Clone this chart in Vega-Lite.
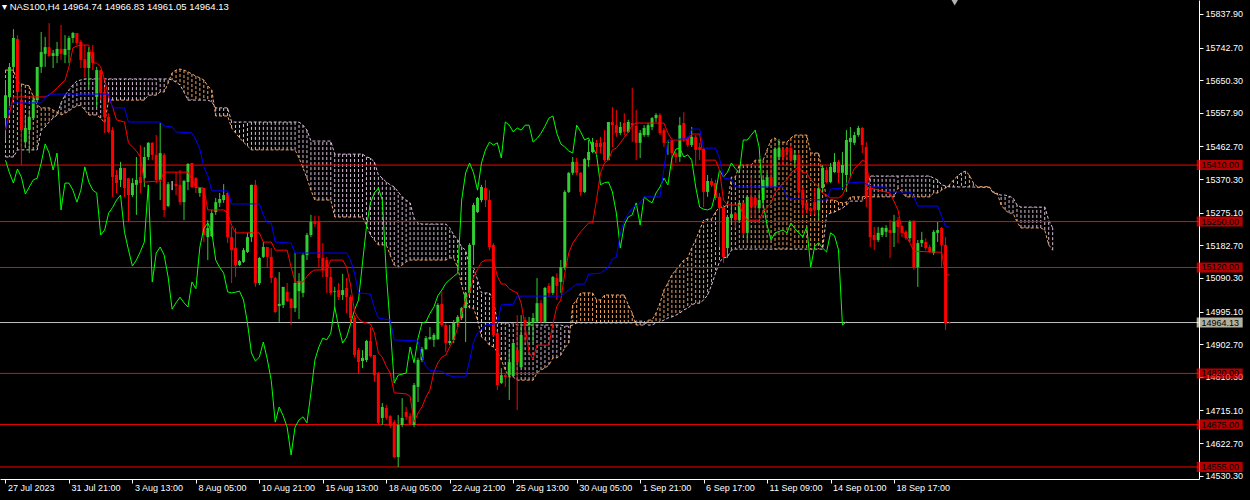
{
"$schema": "https://vega.github.io/schema/vega-lite/v6.json",
"width": 1199, "height": 479, "autosize": "none", "padding": {"left": 0, "top": 0, "right": 51, "bottom": 21}, "background": "#000000",
"title": {"text": "▾ NAS100,H4  14964.74 14966.83 14961.05 14964.13", "anchor": "start", "frame": "group", "orient": "top", "offset": -12, "dx": 2, "color": "#ffffff", "font": "Liberation Sans", "fontSize": 9.5, "fontWeight": "normal"},
"config": {"view": {"stroke": null}, "axis": {"labelOverlap": false, "labelFlush": false, "labelBound": false, "grid": false}},
"datasets": {
"k": [
{"i":0,"o":15543,"h":15651,"l":15481,"c":15608},{"i":1,"o":15603,"h":15699,"l":15574,"c":15688},{"i":2,"o":15688,"h":15795,"l":15679,"c":15770},{"i":3,"o":15767,"h":15778,"l":15594,"c":15617},{"i":4,"o":15594,"h":15631,"l":15410,"c":15509},{"i":5,"o":15475,"h":15546,"l":15461,"c":15515},{"i":6,"o":15509,"h":15566,"l":15444,"c":15546},{"i":7,"o":15543,"h":15608,"l":15538,"c":15594},{"i":8,"o":15594,"h":15688,"l":15586,"c":15688},{"i":9,"o":15688,"h":15787,"l":15671,"c":15730},
{"i":10,"o":15725,"h":15773,"l":15688,"c":15744},{"i":11,"o":15744,"h":15812,"l":15716,"c":15719},{"i":12,"o":15719,"h":15736,"l":15685,"c":15727},{"i":13,"o":15719,"h":15759,"l":15699,"c":15739},{"i":14,"o":15739,"h":15807,"l":15708,"c":15725},{"i":15,"o":15722,"h":15778,"l":15699,"c":15739},{"i":16,"o":15736,"h":15776,"l":15699,"c":15770},{"i":17,"o":15770,"h":15787,"l":15756,"c":15784},{"i":18,"o":15784,"h":15784,"l":15750,"c":15756},{"i":19,"o":15759,"h":15764,"l":15685,"c":15708},
{"i":20,"o":15710,"h":15750,"l":15659,"c":15685},{"i":21,"o":15685,"h":15744,"l":15631,"c":15730},{"i":22,"o":15730,"h":15750,"l":15679,"c":15699},{"i":23,"o":15603,"h":15688,"l":15574,"c":15679},{"i":24,"o":15679,"h":15679,"l":15594,"c":15614},{"i":25,"o":15617,"h":15631,"l":15501,"c":15546},{"i":26,"o":15546,"h":15557,"l":15501,"c":15504},{"i":27,"o":15509,"h":15518,"l":15320,"c":15376},{"i":28,"o":15382,"h":15396,"l":15331,"c":15359},{"i":29,"o":15368,"h":15419,"l":15348,"c":15402},
{"i":30,"o":15402,"h":15402,"l":15320,"c":15345},{"i":31,"o":15373,"h":15373,"l":15249,"c":15325},{"i":32,"o":15325,"h":15373,"l":15320,"c":15359},{"i":33,"o":15354,"h":15433,"l":15269,"c":15368},{"i":34,"o":15376,"h":15467,"l":15331,"c":15359},{"i":35,"o":15373,"h":15461,"l":15348,"c":15433},{"i":36,"o":15433,"h":15475,"l":15424,"c":15473},{"i":37,"o":15473,"h":15475,"l":15424,"c":15439},{"i":38,"o":15439,"h":15495,"l":15359,"c":15368},{"i":39,"o":15368,"h":15529,"l":15311,"c":15444},
{"i":40,"o":15439,"h":15444,"l":15263,"c":15283},{"i":41,"o":15294,"h":15362,"l":15291,"c":15356},{"i":42,"o":15354,"h":15365,"l":15339,"c":15354},{"i":43,"o":15356,"h":15390,"l":15325,"c":15351},{"i":44,"o":15354,"h":15396,"l":15297,"c":15305},{"i":45,"o":15305,"h":15368,"l":15254,"c":15365},{"i":46,"o":15362,"h":15416,"l":15339,"c":15413},{"i":47,"o":15416,"h":15416,"l":15345,"c":15348},{"i":48,"o":15373,"h":15376,"l":15331,"c":15345},{"i":49,"o":15331,"h":15348,"l":15320,"c":15345},
{"i":50,"o":15345,"h":15345,"l":15192,"c":15212},{"i":51,"o":15206,"h":15254,"l":15141,"c":15232},{"i":52,"o":15209,"h":15283,"l":15206,"c":15274},{"i":53,"o":15277,"h":15317,"l":15269,"c":15305},{"i":54,"o":15303,"h":15331,"l":15291,"c":15314},{"i":55,"o":15311,"h":15356,"l":15303,"c":15325},{"i":56,"o":15331,"h":15334,"l":15189,"c":15206},{"i":57,"o":15206,"h":15235,"l":15076,"c":15169},{"i":58,"o":15175,"h":15232,"l":15093,"c":15127},{"i":59,"o":15127,"h":15141,"l":15124,"c":15138},
{"i":60,"o":15136,"h":15175,"l":15133,"c":15169},{"i":61,"o":15164,"h":15218,"l":15161,"c":15206},{"i":62,"o":15206,"h":15354,"l":15192,"c":15354},{"i":63,"o":15354,"h":15368,"l":15065,"c":15076},{"i":64,"o":15076,"h":15150,"l":15070,"c":15147},{"i":65,"o":15150,"h":15192,"l":15147,"c":15178},{"i":66,"o":15178,"h":15178,"l":15121,"c":15150},{"i":67,"o":15150,"h":15175,"l":15076,"c":15090},{"i":68,"o":15090,"h":15093,"l":14991,"c":14994},{"i":69,"o":15011,"h":15107,"l":14966,"c":15017},
{"i":70,"o":15014,"h":15065,"l":15005,"c":15065},{"i":71,"o":15051,"h":15076,"l":15022,"c":15025},{"i":72,"o":15031,"h":15034,"l":14957,"c":15005},{"i":73,"o":15005,"h":15161,"l":14994,"c":15076},{"i":74,"o":15053,"h":15104,"l":14974,"c":15082},{"i":75,"o":15048,"h":15161,"l":15036,"c":15155},{"i":76,"o":15155,"h":15218,"l":15141,"c":15212},{"i":77,"o":15212,"h":15269,"l":15206,"c":15249},{"i":78,"o":15249,"h":15266,"l":15235,"c":15243},{"i":79,"o":15249,"h":15266,"l":15119,"c":15147},
{"i":80,"o":15147,"h":15189,"l":15093,"c":15113},{"i":81,"o":15141,"h":15150,"l":15048,"c":15093},{"i":82,"o":15093,"h":15121,"l":15042,"c":15048},{"i":83,"o":15051,"h":15065,"l":15008,"c":15053},{"i":84,"o":15056,"h":15076,"l":15028,"c":15036},{"i":85,"o":15042,"h":15102,"l":15028,"c":15056},{"i":86,"o":15062,"h":15090,"l":14991,"c":15036},{"i":87,"o":15036,"h":15042,"l":14963,"c":14977},{"i":88,"o":14977,"h":14985,"l":14866,"c":14872},{"i":89,"o":14886,"h":14892,"l":14821,"c":14852},
{"i":90,"o":14855,"h":14886,"l":14835,"c":14864},{"i":91,"o":14858,"h":14915,"l":14852,"c":14912},{"i":92,"o":14912,"h":14951,"l":14866,"c":14869},{"i":93,"o":14872,"h":14872,"l":14796,"c":14815},{"i":94,"o":14821,"h":14824,"l":14674,"c":14680},{"i":95,"o":14694,"h":14736,"l":14674,"c":14725},{"i":96,"o":14722,"h":14731,"l":14688,"c":14694},{"i":97,"o":14699,"h":14702,"l":14665,"c":14671},{"i":98,"o":14682,"h":14688,"l":14580,"c":14583},{"i":99,"o":14583,"h":14702,"l":14555,"c":14674},
{"i":100,"o":14674,"h":14750,"l":14668,"c":14694},{"i":101,"o":14711,"h":14725,"l":14688,"c":14697},{"i":102,"o":14699,"h":14708,"l":14674,"c":14677},{"i":103,"o":14674,"h":14793,"l":14668,"c":14787},{"i":104,"o":14782,"h":14864,"l":14739,"c":14858},{"i":105,"o":14858,"h":14895,"l":14852,"c":14889},{"i":106,"o":14889,"h":14926,"l":14886,"c":14920},{"i":107,"o":14917,"h":14951,"l":14915,"c":14923},{"i":108,"o":14915,"h":14934,"l":14895,"c":14929},{"i":109,"o":14917,"h":15019,"l":14915,"c":15014},
{"i":110,"o":15017,"h":15051,"l":14951,"c":14957},{"i":111,"o":14957,"h":14963,"l":14881,"c":14906},{"i":112,"o":14906,"h":14957,"l":14900,"c":14912},{"i":113,"o":14915,"h":14971,"l":14906,"c":14963},{"i":114,"o":14963,"h":14985,"l":14951,"c":14980},{"i":115,"o":14977,"h":15008,"l":14971,"c":15005},{"i":116,"o":15005,"h":15051,"l":14909,"c":15048},{"i":117,"o":15048,"h":15189,"l":15042,"c":15184},{"i":118,"o":15184,"h":15303,"l":15127,"c":15297},{"i":119,"o":15277,"h":15320,"l":15274,"c":15317},
{"i":120,"o":15311,"h":15354,"l":15305,"c":15348},{"i":121,"o":15345,"h":15368,"l":15291,"c":15311},{"i":122,"o":15311,"h":15339,"l":15169,"c":15178},{"i":123,"o":15184,"h":15189,"l":14923,"c":14929},{"i":124,"o":14934,"h":14937,"l":14773,"c":14787},{"i":125,"o":14793,"h":14835,"l":14790,"c":14815},{"i":126,"o":14815,"h":14821,"l":14782,"c":14810},{"i":127,"o":14815,"h":14886,"l":14745,"c":14852},{"i":128,"o":14813,"h":14909,"l":14810,"c":14906},{"i":129,"o":14886,"h":14985,"l":14716,"c":14852},
{"i":130,"o":14838,"h":14985,"l":14835,"c":14929},{"i":131,"o":14971,"h":14980,"l":14906,"c":14963},{"i":132,"o":14957,"h":14980,"l":14934,"c":14966},{"i":133,"o":14963,"h":14991,"l":14906,"c":14977},{"i":134,"o":14966,"h":15090,"l":14963,"c":15019},{"i":135,"o":15019,"h":15028,"l":14963,"c":14966},{"i":136,"o":14966,"h":15065,"l":14963,"c":15062},{"i":137,"o":15068,"h":15076,"l":15036,"c":15048},{"i":138,"o":15048,"h":15096,"l":15042,"c":15093},{"i":139,"o":15090,"h":15104,"l":15028,"c":15068},
{"i":140,"o":15079,"h":15141,"l":15048,"c":15121},{"i":141,"o":15119,"h":15339,"l":15113,"c":15334},{"i":142,"o":15334,"h":15390,"l":15331,"c":15388},{"i":143,"o":15388,"h":15433,"l":15382,"c":15419},{"i":144,"o":15419,"h":15430,"l":15382,"c":15388},{"i":145,"o":15388,"h":15390,"l":15322,"c":15334},{"i":146,"o":15334,"h":15430,"l":15331,"c":15427},{"i":147,"o":15424,"h":15481,"l":15405,"c":15447},{"i":148,"o":15447,"h":15487,"l":15444,"c":15475},{"i":149,"o":15473,"h":15481,"l":15444,"c":15461},
{"i":150,"o":15473,"h":15490,"l":15444,"c":15461},{"i":151,"o":15475,"h":15509,"l":15419,"c":15424},{"i":152,"o":15424,"h":15532,"l":15424,"c":15532},{"i":153,"o":15532,"h":15574,"l":15461,"c":15523},{"i":154,"o":15523,"h":15566,"l":15490,"c":15501},{"i":155,"o":15501,"h":15532,"l":15495,"c":15518},{"i":156,"o":15529,"h":15557,"l":15495,"c":15504},{"i":157,"o":15504,"h":15538,"l":15501,"c":15532},{"i":158,"o":15529,"h":15628,"l":15475,"c":15523},{"i":159,"o":15521,"h":15566,"l":15424,"c":15473},
{"i":160,"o":15473,"h":15509,"l":15430,"c":15501},{"i":161,"o":15495,"h":15523,"l":15490,"c":15515},{"i":162,"o":15495,"h":15529,"l":15490,"c":15523},{"i":163,"o":15518,"h":15546,"l":15509,"c":15543},{"i":164,"o":15543,"h":15557,"l":15532,"c":15552},{"i":165,"o":15552,"h":15557,"l":15495,"c":15501},{"i":166,"o":15509,"h":15515,"l":15461,"c":15473},{"i":167,"o":15473,"h":15481,"l":15439,"c":15475},{"i":168,"o":15481,"h":15487,"l":15396,"c":15444},{"i":169,"o":15444,"h":15447,"l":15416,"c":15433},
{"i":170,"o":15433,"h":15546,"l":15419,"c":15523},{"i":171,"o":15529,"h":15560,"l":15475,"c":15481},{"i":172,"o":15487,"h":15490,"l":15461,"c":15467},{"i":173,"o":15467,"h":15518,"l":15461,"c":15490},{"i":174,"o":15490,"h":15495,"l":15410,"c":15453},{"i":175,"o":15461,"h":15473,"l":15424,"c":15453},{"i":176,"o":15456,"h":15458,"l":15291,"c":15334},{"i":177,"o":15334,"h":15382,"l":15320,"c":15365},{"i":178,"o":15365,"h":15373,"l":15348,"c":15354},{"i":179,"o":15359,"h":15368,"l":15311,"c":15317},
{"i":180,"o":15320,"h":15331,"l":15178,"c":15288},{"i":181,"o":15291,"h":15297,"l":15133,"c":15150},{"i":182,"o":15175,"h":15269,"l":15147,"c":15263},{"i":183,"o":15260,"h":15303,"l":15246,"c":15271},{"i":184,"o":15274,"h":15277,"l":15232,"c":15254},{"i":185,"o":15254,"h":15305,"l":15246,"c":15303},{"i":186,"o":15303,"h":15305,"l":15212,"c":15218},{"i":187,"o":15218,"h":15325,"l":15198,"c":15320},{"i":188,"o":15320,"h":15376,"l":15263,"c":15291},{"i":189,"o":15317,"h":15325,"l":15260,"c":15297},
{"i":190,"o":15288,"h":15331,"l":15283,"c":15311},{"i":191,"o":15311,"h":15373,"l":15305,"c":15368},{"i":192,"o":15348,"h":15390,"l":15345,"c":15376},{"i":193,"o":15376,"h":15439,"l":15345,"c":15348},{"i":194,"o":15348,"h":15461,"l":15345,"c":15456},{"i":195,"o":15433,"h":15484,"l":15424,"c":15458},{"i":196,"o":15453,"h":15458,"l":15410,"c":15433},{"i":197,"o":15458,"h":15461,"l":15424,"c":15447},{"i":198,"o":15458,"h":15464,"l":15419,"c":15424},{"i":199,"o":15424,"h":15453,"l":15405,"c":15439},
{"i":200,"o":15439,"h":15444,"l":15320,"c":15334},{"i":201,"o":15339,"h":15345,"l":15269,"c":15297},{"i":202,"o":15303,"h":15305,"l":15274,"c":15283},{"i":203,"o":15288,"h":15291,"l":15269,"c":15280},{"i":204,"o":15305,"h":15345,"l":15269,"c":15283},{"i":205,"o":15283,"h":15354,"l":15254,"c":15345},{"i":206,"o":15345,"h":15410,"l":15334,"c":15402},{"i":207,"o":15396,"h":15405,"l":15359,"c":15362},{"i":208,"o":15362,"h":15416,"l":15359,"c":15405},{"i":209,"o":15390,"h":15444,"l":15388,"c":15419},
{"i":210,"o":15419,"h":15424,"l":15359,"c":15388},{"i":211,"o":15388,"h":15447,"l":15339,"c":15410},{"i":212,"o":15382,"h":15509,"l":15334,"c":15481},{"i":213,"o":15475,"h":15518,"l":15376,"c":15487},{"i":214,"o":15473,"h":15504,"l":15467,"c":15495},{"i":215,"o":15495,"h":15521,"l":15490,"c":15515},{"i":216,"o":15515,"h":15518,"l":15444,"c":15467},{"i":217,"o":15461,"h":15475,"l":15291,"c":15320},{"i":218,"o":15345,"h":15348,"l":15178,"c":15206},{"i":219,"o":15212,"h":15235,"l":15169,"c":15198},
{"i":220,"o":15198,"h":15235,"l":15192,"c":15218},{"i":221,"o":15212,"h":15235,"l":15206,"c":15232},{"i":222,"o":15221,"h":15240,"l":15206,"c":15232},{"i":223,"o":15226,"h":15254,"l":15147,"c":15218},{"i":224,"o":15218,"h":15269,"l":15178,"c":15249},{"i":225,"o":15254,"h":15263,"l":15189,"c":15235},{"i":226,"o":15237,"h":15240,"l":15206,"c":15218},{"i":227,"o":15221,"h":15226,"l":15198,"c":15203},{"i":228,"o":15203,"h":15254,"l":15192,"c":15249},{"i":229,"o":15252,"h":15254,"l":15113,"c":15119},
{"i":230,"o":15121,"h":15198,"l":15065,"c":15189},{"i":231,"o":15189,"h":15221,"l":15178,"c":15198},{"i":232,"o":15192,"h":15203,"l":15169,"c":15175},{"i":233,"o":15178,"h":15184,"l":15161,"c":15164},{"i":234,"o":15161,"h":15226,"l":15155,"c":15221},{"i":235,"o":15218,"h":15249,"l":15192,"c":15226},{"i":236,"o":15232,"h":15235,"l":15121,"c":15184},{"i":237,"o":15184,"h":15206,"l":14943,"c":14962},{"i":238,"o":14964.74,"h":14966.83,"l":14961.05,"c":14964.13}
],
"cl": [
{"i":0,"a":15679,"b":15433},{"i":1,"a":15679,"b":15433},{"i":2,"a":15679,"b":15433},{"i":3,"a":15645,"b":15453},{"i":4,"a":15640,"b":15453},{"i":5,"a":15637,"b":15453},{"i":6,"a":15634,"b":15453},{"i":7,"a":15603,"b":15453},{"i":8,"a":15580,"b":15453},{"i":9,"a":15572,"b":15509},
{"i":10,"a":15572,"b":15518},{"i":11,"a":15572,"b":15532},{"i":12,"a":15566,"b":15543},{"i":13,"a":15560,"b":15552},{"i":14,"a":15552,"b":15586},{"i":15,"a":15557,"b":15608},{"i":16,"a":15563,"b":15623},{"i":17,"a":15572,"b":15637},{"i":18,"a":15577,"b":15648},{"i":19,"a":15580,"b":15651},
{"i":20,"a":15566,"b":15654},{"i":21,"a":15552,"b":15654},{"i":22,"a":15552,"b":15654},{"i":23,"a":15552,"b":15654},{"i":24,"a":15543,"b":15654},{"i":25,"a":15530,"b":15654},{"i":26,"a":15594,"b":15654},{"i":27,"a":15594,"b":15654},{"i":28,"a":15594,"b":15654},{"i":29,"a":15594,"b":15654},
{"i":30,"a":15594,"b":15654},{"i":31,"a":15594,"b":15654},{"i":32,"a":15594,"b":15654},{"i":33,"a":15594,"b":15654},{"i":34,"a":15594,"b":15654},{"i":35,"a":15594,"b":15654},{"i":36,"a":15608,"b":15654},{"i":37,"a":15608,"b":15654},{"i":38,"a":15608,"b":15654},{"i":39,"a":15617,"b":15654},
{"i":40,"a":15617,"b":15654},{"i":41,"a":15642,"b":15654},{"i":42,"a":15671,"b":15651},{"i":43,"a":15679,"b":15645},{"i":44,"a":15682,"b":15637},{"i":45,"a":15679,"b":15617},{"i":46,"a":15674,"b":15594},{"i":47,"a":15668,"b":15594},{"i":48,"a":15662,"b":15594},{"i":49,"a":15657,"b":15594},
{"i":50,"a":15651,"b":15594},{"i":51,"a":15634,"b":15594},{"i":52,"a":15623,"b":15589},{"i":53,"a":15549,"b":15572},{"i":54,"a":15549,"b":15572},{"i":55,"a":15549,"b":15572},{"i":56,"a":15549,"b":15572},{"i":57,"a":15515,"b":15532},{"i":58,"a":15501,"b":15532},{"i":59,"a":15487,"b":15532},
{"i":60,"a":15475,"b":15532},{"i":61,"a":15464,"b":15532},{"i":62,"a":15453,"b":15532},{"i":63,"a":15453,"b":15532},{"i":64,"a":15453,"b":15532},{"i":65,"a":15453,"b":15532},{"i":66,"a":15453,"b":15532},{"i":67,"a":15453,"b":15532},{"i":68,"a":15453,"b":15532},{"i":69,"a":15453,"b":15532},
{"i":70,"a":15453,"b":15532},{"i":71,"a":15453,"b":15532},{"i":72,"a":15453,"b":15532},{"i":73,"a":15453,"b":15532},{"i":74,"a":15430,"b":15532},{"i":75,"a":15402,"b":15523},{"i":76,"a":15373,"b":15509},{"i":77,"a":15339,"b":15478},{"i":78,"a":15311,"b":15478},{"i":79,"a":15311,"b":15478},
{"i":80,"a":15311,"b":15478},{"i":81,"a":15311,"b":15478},{"i":82,"a":15311,"b":15478},{"i":83,"a":15263,"b":15441},{"i":84,"a":15263,"b":15441},{"i":85,"a":15263,"b":15441},{"i":86,"a":15263,"b":15441},{"i":87,"a":15263,"b":15441},{"i":88,"a":15263,"b":15441},{"i":89,"a":15263,"b":15441},
{"i":90,"a":15263,"b":15441},{"i":91,"a":15240,"b":15433},{"i":92,"a":15212,"b":15430},{"i":93,"a":15198,"b":15419},{"i":94,"a":15184,"b":15382},{"i":95,"a":15184,"b":15373},{"i":96,"a":15184,"b":15362},{"i":97,"a":15155,"b":15354},{"i":98,"a":15127,"b":15348},{"i":99,"a":15119,"b":15334},
{"i":100,"a":15127,"b":15320},{"i":101,"a":15136,"b":15311},{"i":102,"a":15141,"b":15303},{"i":103,"a":15141,"b":15260},{"i":104,"a":15141,"b":15246},{"i":105,"a":15141,"b":15243},{"i":106,"a":15141,"b":15243},{"i":107,"a":15141,"b":15243},{"i":108,"a":15141,"b":15243},{"i":109,"a":15141,"b":15243},
{"i":110,"a":15141,"b":15243},{"i":111,"a":15141,"b":15243},{"i":112,"a":15147,"b":15232},{"i":113,"a":15147,"b":15212},{"i":114,"a":15119,"b":15198},{"i":115,"a":15070,"b":15178},{"i":116,"a":15028,"b":15169},{"i":117,"a":15005,"b":15121},{"i":118,"a":15005,"b":15121},{"i":119,"a":14971,"b":15085},
{"i":120,"a":14923,"b":15048},{"i":121,"a":14915,"b":15048},{"i":122,"a":14900,"b":15048},{"i":123,"a":14895,"b":15028},{"i":124,"a":14881,"b":14963},{"i":125,"a":14858,"b":14963},{"i":126,"a":14830,"b":14963},{"i":127,"a":14810,"b":14963},{"i":128,"a":14810,"b":14963},{"i":129,"a":14801,"b":14957},
{"i":130,"a":14801,"b":14957},{"i":131,"a":14801,"b":14957},{"i":132,"a":14801,"b":14957},{"i":133,"a":14801,"b":14957},{"i":134,"a":14821,"b":14957},{"i":135,"a":14830,"b":14957},{"i":136,"a":14835,"b":14957},{"i":137,"a":14844,"b":14957},{"i":138,"a":14864,"b":14957},{"i":139,"a":14864,"b":14957},
{"i":140,"a":14872,"b":14957},{"i":141,"a":14892,"b":14954},{"i":142,"a":14906,"b":14954},{"i":143,"a":15014,"b":14957},{"i":144,"a":15028,"b":14963},{"i":145,"a":15048,"b":14963},{"i":146,"a":15048,"b":14963},{"i":147,"a":15048,"b":14963},{"i":148,"a":15048,"b":14963},{"i":149,"a":15028,"b":14963},
{"i":150,"a":15028,"b":14963},{"i":151,"a":15042,"b":14963},{"i":152,"a":15042,"b":14963},{"i":153,"a":15042,"b":14963},{"i":154,"a":15042,"b":14963},{"i":155,"a":15042,"b":14963},{"i":156,"a":15042,"b":14963},{"i":157,"a":15014,"b":14963},{"i":158,"a":14991,"b":14963},{"i":159,"a":14957,"b":14968},
{"i":160,"a":14957,"b":14968},{"i":161,"a":14957,"b":14968},{"i":162,"a":14971,"b":14957},{"i":163,"a":14971,"b":14957},{"i":164,"a":14991,"b":14963},{"i":165,"a":15019,"b":14966},{"i":166,"a":15056,"b":14971},{"i":167,"a":15076,"b":14977},{"i":168,"a":15099,"b":14980},{"i":169,"a":15113,"b":14985},
{"i":170,"a":15127,"b":14991},{"i":171,"a":15141,"b":15000},{"i":172,"a":15147,"b":15005},{"i":173,"a":15175,"b":15014},{"i":174,"a":15198,"b":15019},{"i":175,"a":15226,"b":15019},{"i":176,"a":15254,"b":15028},{"i":177,"a":15257,"b":15042},{"i":178,"a":15257,"b":15070},{"i":179,"a":15277,"b":15104},
{"i":180,"a":15291,"b":15136},{"i":181,"a":15291,"b":15147},{"i":182,"a":15297,"b":15150},{"i":183,"a":15376,"b":15169},{"i":184,"a":15376,"b":15172},{"i":185,"a":15410,"b":15172},{"i":186,"a":15410,"b":15172},{"i":187,"a":15410,"b":15172},{"i":188,"a":15410,"b":15172},{"i":189,"a":15424,"b":15172},
{"i":190,"a":15424,"b":15172},{"i":191,"a":15424,"b":15172},{"i":192,"a":15453,"b":15172},{"i":193,"a":15481,"b":15172},{"i":194,"a":15487,"b":15172},{"i":195,"a":15475,"b":15172},{"i":196,"a":15475,"b":15172},{"i":197,"a":15475,"b":15172},{"i":198,"a":15487,"b":15172},{"i":199,"a":15495,"b":15172},
{"i":200,"a":15495,"b":15172},{"i":201,"a":15495,"b":15172},{"i":202,"a":15495,"b":15172},{"i":203,"a":15444,"b":15172},{"i":204,"a":15444,"b":15172},{"i":205,"a":15444,"b":15172},{"i":206,"a":15382,"b":15172},{"i":207,"a":15311,"b":15269},{"i":208,"a":15311,"b":15274},{"i":209,"a":15311,"b":15277},
{"i":210,"a":15305,"b":15283},{"i":211,"a":15303,"b":15288},{"i":212,"a":15305,"b":15297},{"i":213,"a":15320,"b":15308},{"i":214,"a":15320,"b":15308},{"i":215,"a":15320,"b":15308},{"i":216,"a":15320,"b":15308},{"i":217,"a":15322,"b":15320},{"i":218,"a":15320,"b":15379},{"i":219,"a":15320,"b":15379},
{"i":220,"a":15320,"b":15379},{"i":221,"a":15320,"b":15379},{"i":222,"a":15320,"b":15379},{"i":223,"a":15320,"b":15379},{"i":224,"a":15320,"b":15379},{"i":225,"a":15345,"b":15379},{"i":226,"a":15334,"b":15379},{"i":227,"a":15320,"b":15379},{"i":228,"a":15320,"b":15379},{"i":229,"a":15320,"b":15379},
{"i":230,"a":15320,"b":15379},{"i":231,"a":15320,"b":15379},{"i":232,"a":15320,"b":15379},{"i":233,"a":15320,"b":15379},{"i":234,"a":15331,"b":15373},{"i":235,"a":15331,"b":15368},{"i":236,"a":15339,"b":15354},{"i":237,"a":15345,"b":15351},{"i":238,"a":15354,"b":15348},{"i":239,"a":15368,"b":15348},
{"i":240,"a":15379,"b":15348},{"i":241,"a":15388,"b":15348},{"i":242,"a":15393,"b":15348},{"i":243,"a":15382,"b":15348},{"i":244,"a":15359,"b":15348},{"i":245,"a":15349,"b":15347},{"i":246,"a":15349,"b":15347},{"i":247,"a":15349,"b":15347},{"i":248,"a":15349,"b":15347},{"i":249,"a":15334,"b":15331},
{"i":250,"a":15331,"b":15328},{"i":251,"a":15297,"b":15325},{"i":252,"a":15283,"b":15325},{"i":253,"a":15274,"b":15322},{"i":254,"a":15274,"b":15317},{"i":255,"a":15249,"b":15297},{"i":256,"a":15232,"b":15291},{"i":257,"a":15232,"b":15291},{"i":258,"a":15232,"b":15291},{"i":259,"a":15232,"b":15291},
{"i":260,"a":15232,"b":15291},{"i":261,"a":15232,"b":15291},{"i":262,"a":15226,"b":15291},{"i":263,"a":15184,"b":15254},{"i":264,"a":15169,"b":15232}
],
"tk": [
{"i":0,"v":15509},{"i":2,"v":15603},{"i":10,"v":15603},{"i":11,"v":15608},{"i":13,"v":15628},{"i":14,"v":15640},{"i":15,"v":15650},{"i":16,"v":15688},{"i":17,"v":15742},{"i":18,"v":15747},{"i":19,"v":15750},{"i":21,"v":15750},{"i":22,"v":15699},{"i":23,"v":15699},{"i":24,"v":15688},{"i":25,"v":15651},{"i":26,"v":15603},{"i":27,"v":15574},{"i":28,"v":15538},{"i":30,"v":15532},{"i":31,"v":15473},{"i":32,"v":15461},{"i":33,"v":15450},{"i":34,"v":15433},{"i":35,"v":15362},{"i":39,"v":15365},{"i":40,"v":15390},{"i":46,"v":15390},{"i":47,"v":15370},{"i":48,"v":15348},{"i":50,"v":15345},{"i":51,"v":15283},{"i":55,"v":15283},{"i":56,"v":15274},{"i":57,"v":15240},{"i":58,"v":15218},{"i":64,"v":15218},{"i":65,"v":15192},{"i":67,"v":15192},{"i":68,"v":15169},{"i":71,"v":15169},{"i":72,"v":15121},{"i":73,"v":15079},{"i":75,"v":15079},{"i":76,"v":15095},{"i":77,"v":15107},{"i":78,"v":15113},{"i":81,"v":15113},{"i":82,"v":15141},{"i":85,"v":15141},{"i":86,"v":15121},{"i":87,"v":15070},{"i":88,"v":14995},{"i":89,"v":14975},{"i":90,"v":14966},{"i":92,"v":14960},{"i":93,"v":14935},{"i":94,"v":14878},{"i":95,"v":14866},{"i":96,"v":14840},{"i":97,"v":14821},{"i":98,"v":14765},{"i":101,"v":14762},{"i":102,"v":14755},{"i":103,"v":14682},{"i":104,"v":14708},{"i":105,"v":14725},{"i":106,"v":14753},{"i":107,"v":14773},{"i":108,"v":14824},{"i":109,"v":14850},{"i":110,"v":14866},{"i":111,"v":14872},{"i":112,"v":14895},{"i":113,"v":14915},{"i":114,"v":14950},{"i":115,"v":14991},{"i":116,"v":15030},{"i":117,"v":15048},{"i":118,"v":15093},{"i":119,"v":15115},{"i":120,"v":15135},{"i":121,"v":15141},{"i":123,"v":15141},{"i":124,"v":15095},{"i":125,"v":15073},{"i":126,"v":15073},{"i":127,"v":15060},{"i":128,"v":15053},{"i":129,"v":15048},{"i":130,"v":15019},{"i":131,"v":14951},{"i":132,"v":14880},{"i":133,"v":14861},{"i":134,"v":14900},{"i":137,"v":14900},{"i":138,"v":14960},{"i":139,"v":15010},{"i":140,"v":15028},{"i":141,"v":15104},{"i":142,"v":15161},{"i":143,"v":15189},{"i":145,"v":15221},{"i":147,"v":15246},{"i":148,"v":15246},{"i":149,"v":15311},{"i":150,"v":15388},{"i":151,"v":15416},{"i":152,"v":15424},{"i":153,"v":15453},{"i":154,"v":15458},{"i":155,"v":15473},{"i":157,"v":15504},{"i":158,"v":15523},{"i":159,"v":15529},{"i":166,"v":15529},{"i":167,"v":15501},{"i":168,"v":15481},{"i":172,"v":15481},{"i":173,"v":15498},{"i":175,"v":15498},{"i":176,"v":15424},{"i":179,"v":15424},{"i":180,"v":15396},{"i":181,"v":15311},{"i":182,"v":15297},{"i":185,"v":15297},{"i":186,"v":15270},{"i":187,"v":15254},{"i":190,"v":15254},{"i":191,"v":15277},{"i":192,"v":15290},{"i":193,"v":15303},{"i":194,"v":15331},{"i":195,"v":15345},{"i":196,"v":15360},{"i":197,"v":15368},{"i":198,"v":15388},{"i":200,"v":15405},{"i":201,"v":15388},{"i":202,"v":15388},{"i":203,"v":15368},{"i":205,"v":15348},{"i":206,"v":15330},{"i":207,"v":15325},{"i":208,"v":15317},{"i":210,"v":15317},{"i":211,"v":15325},{"i":212,"v":15348},{"i":213,"v":15376},{"i":214,"v":15400},{"i":215,"v":15410},{"i":216,"v":15424},{"i":217,"v":15419},{"i":218,"v":15345},{"i":223,"v":15331},{"i":225,"v":15283},{"i":226,"v":15226},{"i":227,"v":15210},{"i":228,"v":15190},{"i":229,"v":15166},{"i":236,"v":15163},{"i":237,"v":15099},{"i":238,"v":15099}
],
"kj": [
{"i":0,"v":15509},{"i":1,"v":15577},{"i":2,"v":15586},{"i":9,"v":15586},{"i":10,"v":15600},{"i":11,"v":15611},{"i":26,"v":15611},{"i":27,"v":15572},{"i":30,"v":15572},{"i":31,"v":15532},{"i":39,"v":15532},{"i":40,"v":15521},{"i":42,"v":15518},{"i":43,"v":15504},{"i":47,"v":15501},{"i":48,"v":15481},{"i":49,"v":15455},{"i":50,"v":15405},{"i":51,"v":15380},{"i":52,"v":15337},{"i":56,"v":15337},{"i":57,"v":15300},{"i":64,"v":15300},{"i":65,"v":15269},{"i":66,"v":15246},{"i":67,"v":15246},{"i":68,"v":15192},{"i":72,"v":15189},{"i":73,"v":15161},{"i":86,"v":15161},{"i":87,"v":15141},{"i":88,"v":15104},{"i":89,"v":15048},{"i":92,"v":15045},{"i":93,"v":15005},{"i":94,"v":14977},{"i":97,"v":14971},{"i":98,"v":14915},{"i":104,"v":14912},{"i":105,"v":14866},{"i":106,"v":14840},{"i":107,"v":14828},{"i":110,"v":14826},{"i":111,"v":14818},{"i":113,"v":14810},{"i":116,"v":14810},{"i":117,"v":14855},{"i":118,"v":14910},{"i":119,"v":14935},{"i":120,"v":14945},{"i":121,"v":14957},{"i":124,"v":14961},{"i":125,"v":15014},{"i":128,"v":15016},{"i":129,"v":15039},{"i":140,"v":15039},{"i":142,"v":15056},{"i":144,"v":15073},{"i":146,"v":15073},{"i":147,"v":15101},{"i":150,"v":15104},{"i":152,"v":15121},{"i":153,"v":15144},{"i":154,"v":15150},{"i":155,"v":15215},{"i":156,"v":15254},{"i":157,"v":15272},{"i":158,"v":15288},{"i":160,"v":15303},{"i":161,"v":15320},{"i":165,"v":15320},{"i":166,"v":15400},{"i":167,"v":15481},{"i":172,"v":15485},{"i":173,"v":15512},{"i":175,"v":15512},{"i":176,"v":15458},{"i":179,"v":15458},{"i":180,"v":15430},{"i":181,"v":15373},{"i":183,"v":15370},{"i":184,"v":15348},{"i":196,"v":15348},{"i":197,"v":15320},{"i":198,"v":15314},{"i":207,"v":15311},{"i":208,"v":15342},{"i":211,"v":15345},{"i":212,"v":15359},{"i":216,"v":15362},{"i":217,"v":15356},{"i":219,"v":15348},{"i":222,"v":15348},{"i":223,"v":15334},{"i":228,"v":15334},{"i":229,"v":15320},{"i":230,"v":15294},{"i":235,"v":15294},{"i":236,"v":15265},{"i":237,"v":15235},{"i":238,"v":15235}
],
"ck": [
{"i":0,"v":15424},{"i":1,"v":15388},{"i":2,"v":15359},{"i":3,"v":15399},{"i":4,"v":15376},{"i":5,"v":15328},{"i":6,"v":15348},{"i":7,"v":15368},{"i":8,"v":15373},{"i":9,"v":15416},{"i":10,"v":15470},{"i":11,"v":15444},{"i":12,"v":15396},{"i":13,"v":15444},{"i":14,"v":15283},{"i":15,"v":15359},{"i":16,"v":15359},{"i":17,"v":15339},{"i":18,"v":15305},{"i":19,"v":15339},{"i":20,"v":15405},{"i":21,"v":15362},{"i":22,"v":15339},{"i":23,"v":15331},{"i":24,"v":15212},{"i":25,"v":15226},{"i":26,"v":15274},{"i":27,"v":15290},{"i":28,"v":15311},{"i":29,"v":15325},{"i":30,"v":15220},{"i":31,"v":15170},{"i":32,"v":15124},{"i":33,"v":15141},{"i":34,"v":15165},{"i":35,"v":15192},{"i":36,"v":15354},{"i":37,"v":15079},{"i":38,"v":15161},{"i":39,"v":15178},{"i":40,"v":15155},{"i":41,"v":15093},{"i":42,"v":15002},{"i":43,"v":15020},{"i":44,"v":15036},{"i":45,"v":15020},{"i":46,"v":15008},{"i":47,"v":15079},{"i":48,"v":15060},{"i":49,"v":15178},{"i":50,"v":15230},{"i":51,"v":15246},{"i":52,"v":15221},{"i":53,"v":15141},{"i":54,"v":15120},{"i":55,"v":15104},{"i":56,"v":15051},{"i":57,"v":15048},{"i":58,"v":15050},{"i":59,"v":15053},{"i":60,"v":15028},{"i":61,"v":14963},{"i":62,"v":14878},{"i":63,"v":14855},{"i":64,"v":14866},{"i":65,"v":14909},{"i":66,"v":14860},{"i":67,"v":14800},{"i":68,"v":14682},{"i":69,"v":14725},{"i":70,"v":14700},{"i":71,"v":14668},{"i":72,"v":14589},{"i":73,"v":14668},{"i":74,"v":14688},{"i":75,"v":14697},{"i":76,"v":14680},{"i":77,"v":14765},{"i":78,"v":14858},{"i":79,"v":14895},{"i":80,"v":14920},{"i":81,"v":14915},{"i":82,"v":14934},{"i":83,"v":15008},{"i":84,"v":14951},{"i":85,"v":14906},{"i":86,"v":14923},{"i":87,"v":14960},{"i":88,"v":15000},{"i":89,"v":15028},{"i":90,"v":15133},{"i":91,"v":15235},{"i":92,"v":15303},{"i":93,"v":15331},{"i":94,"v":15345},{"i":95,"v":15311},{"i":96,"v":15104},{"i":97,"v":14951},{"i":98,"v":14793},{"i":99,"v":14815},{"i":100,"v":14818},{"i":101,"v":14821},{"i":102,"v":14895},{"i":103,"v":14850},{"i":104,"v":14920},{"i":105,"v":14963},{"i":106,"v":14966},{"i":107,"v":14990},{"i":108,"v":15008},{"i":109,"v":15040},{"i":110,"v":15056},{"i":111,"v":15075},{"i":112,"v":15085},{"i":113,"v":15095},{"i":114,"v":15104},{"i":115,"v":15311},{"i":116,"v":15388},{"i":117,"v":15416},{"i":118,"v":15388},{"i":119,"v":15339},{"i":120,"v":15416},{"i":121,"v":15453},{"i":122,"v":15475},{"i":123,"v":15467},{"i":124,"v":15473},{"i":125,"v":15430},{"i":126,"v":15532},{"i":127,"v":15523},{"i":128,"v":15504},{"i":129,"v":15515},{"i":130,"v":15509},{"i":131,"v":15523},{"i":132,"v":15523},{"i":133,"v":15475},{"i":134,"v":15485},{"i":135,"v":15500},{"i":136,"v":15520},{"i":137,"v":15543},{"i":138,"v":15549},{"i":139,"v":15500},{"i":140,"v":15470},{"i":141,"v":15461},{"i":142,"v":15450},{"i":143,"v":15444},{"i":144,"v":15523},{"i":145,"v":15504},{"i":146,"v":15481},{"i":147,"v":15487},{"i":148,"v":15460},{"i":149,"v":15440},{"i":150,"v":15354},{"i":151,"v":15360},{"i":152,"v":15362},{"i":153,"v":15334},{"i":154,"v":15274},{"i":155,"v":15175},{"i":156,"v":15240},{"i":157,"v":15263},{"i":158,"v":15269},{"i":159,"v":15303},{"i":160,"v":15240},{"i":161,"v":15320},{"i":162,"v":15310},{"i":163,"v":15303},{"i":164,"v":15331},{"i":165,"v":15348},{"i":166,"v":15373},{"i":167,"v":15354},{"i":168,"v":15430},{"i":169,"v":15455},{"i":170,"v":15458},{"i":171,"v":15433},{"i":172,"v":15439},{"i":173,"v":15424},{"i":174,"v":15348},{"i":175,"v":15291},{"i":176,"v":15285},{"i":177,"v":15283},{"i":178,"v":15288},{"i":179,"v":15331},{"i":180,"v":15396},{"i":181,"v":15376},{"i":182,"v":15390},{"i":183,"v":15416},{"i":184,"v":15400},{"i":185,"v":15388},{"i":186,"v":15481},{"i":187,"v":15481},{"i":188,"v":15495},{"i":189,"v":15509},{"i":190,"v":15461},{"i":191,"v":15300},{"i":192,"v":15240},{"i":193,"v":15198},{"i":194,"v":15218},{"i":195,"v":15222},{"i":196,"v":15226},{"i":197,"v":15218},{"i":198,"v":15246},{"i":199,"v":15230},{"i":200,"v":15218},{"i":201,"v":15206},{"i":202,"v":15235},{"i":203,"v":15121},{"i":204,"v":15180},{"i":205,"v":15190},{"i":206,"v":15175},{"i":207,"v":15164},{"i":208,"v":15218},{"i":209,"v":15210},{"i":210,"v":15170},{"i":211,"v":14957},{"i":212,"v":14966}
],
"lv": [
{"v":15410,"t":"15410.00","kind":"level"},{"v":15250,"t":"15250.00","kind":"level"},{"v":15120,"t":"15120.00","kind":"level"},{"v":14820,"t":"14820.00","kind":"level"},{"v":14675,"t":"14675.00","kind":"level"},{"v":14555,"t":"14555.00","kind":"level"},{"v":14964.13,"t":"14964.13","kind":"bid"}
]
},
"layer": [
{"data": {"name": "cl"}, "mark": {"type": "rule", "strokeWidth": 1, "strokeDash": [3, 2], "clip": true},
 "encoding": {
  "x": {"field": "i", "type": "quantitative", "scale": {"domain": [-0.125, 299.625], "nice": false, "zero": false},
   "axis": {"orient": "bottom", "values": [0,16,32,48,64,80,96,112,128,144,160,176,192,208,224], "tickCount": 40,
    "labelExpr": "['27 Jul 2023','31 Jul 21:00','3 Aug 13:00','8 Aug 05:00','10 Aug 21:00','15 Aug 13:00','18 Aug 05:00','22 Aug 21:00','25 Aug 13:00','30 Aug 05:00','1 Sep 21:00','6 Sep 17:00','11 Sep 09:00','14 Sep 01:00','18 Sep 17:00'][round(datum.value/16)]",
    "title": null, "grid": false, "domainColor": "#ffffff", "tickColor": "#ffffff", "tickSize": 4, "labelColor": "#ffffff", "labelFont": "Liberation Sans", "labelFontSize": 9, "labelAlign": "left", "labelBaseline": "top", "labelPadding": 0, "labelOffset": 2, "labelOverlap": false, "labelFlush": false, "labelBound": false}},
  "y": {"field": "a", "type": "quantitative", "scale": {"domain": [14521, 15877.5], "nice": false, "zero": false},
   "axis": {"orient": "right", "values": [15837.9,15742.7,15650.3,15557.9,15462.7,15370.3,15275.1,15182.7,15090.3,14995.1,14902.7,14810.3,14715.1,14622.7,14530.3], "tickCount": 40,
    "format": ".2f", "title": null, "grid": false, "domainColor": "#ffffff", "tickColor": "#ffffff", "tickSize": 4, "labelColor": "#ffffff", "labelFont": "Liberation Sans", "labelFontSize": 9, "labelPadding": 2, "labelOverlap": false, "labelFlush": false, "labelBound": false}},
  "y2": {"field": "b"},
  "color": {"condition": {"test": "datum.a >= datum.b", "value": "#f4a460"}, "value": "#d8bfd8"}
 }},
{"data": {"name": "cl"}, "mark": {"type": "line", "strokeWidth": 1, "strokeDash": [3, 2], "color": "#f4a460", "clip": true},
 "encoding": {"x": {"field": "i", "type": "quantitative", "scale": {"domain": [-0.125, 299.625], "nice": false, "zero": false}},
  "y": {"field": "a", "type": "quantitative", "scale": {"domain": [14521, 15877.5], "nice": false, "zero": false}}}},
{"data": {"name": "cl"}, "mark": {"type": "line", "strokeWidth": 1, "strokeDash": [3, 2], "color": "#d8bfd8", "clip": true},
 "encoding": {"x": {"field": "i", "type": "quantitative", "scale": {"domain": [-0.125, 299.625], "nice": false, "zero": false}},
  "y": {"field": "b", "type": "quantitative", "scale": {"domain": [14521, 15877.5], "nice": false, "zero": false}}}},
{"data": {"name": "lv"}, "mark": {"type": "rule", "strokeWidth": 1},
 "encoding": {"y": {"field": "v", "type": "quantitative", "scale": {"domain": [14521, 15877.5], "nice": false, "zero": false}},
  "color": {"condition": {"test": "datum.kind == 'bid'", "value": "#c0c0c0"}, "value": "#ff0000"}}},
{"data": {"name": "k"}, "mark": {"type": "rule", "strokeWidth": 1, "clip": true},
 "encoding": {"x": {"field": "i", "type": "quantitative", "scale": {"domain": [-0.125, 299.625], "nice": false, "zero": false}},
  "y": {"field": "l", "type": "quantitative", "scale": {"domain": [14521, 15877.5], "nice": false, "zero": false}},
  "y2": {"field": "h"},
  "color": {"condition": [{"test": "datum.c > datum.o", "value": "#32cd32"}, {"test": "datum.c == datum.o", "value": "#ffffff"}], "value": "#ff0000"}}},
{"data": {"name": "k"}, "mark": {"type": "bar", "width": 3, "clip": true},
 "encoding": {"x": {"field": "i", "type": "quantitative", "scale": {"domain": [-0.125, 299.625], "nice": false, "zero": false}},
  "y": {"field": "o", "type": "quantitative", "scale": {"domain": [14521, 15877.5], "nice": false, "zero": false}},
  "y2": {"field": "c"},
  "color": {"condition": [{"test": "datum.c > datum.o", "value": "#32cd32"}, {"test": "datum.c == datum.o", "value": "#ffffff"}], "value": "#ff0000"}}},
{"data": {"name": "ck"}, "mark": {"type": "line", "strokeWidth": 1, "color": "#00ff00", "clip": true},
 "encoding": {"x": {"field": "i", "type": "quantitative", "scale": {"domain": [-0.125, 299.625], "nice": false, "zero": false}},
  "y": {"field": "v", "type": "quantitative", "scale": {"domain": [14521, 15877.5], "nice": false, "zero": false}}}},
{"data": {"name": "tk"}, "mark": {"type": "line", "strokeWidth": 1, "color": "#ff0000", "clip": true},
 "encoding": {"x": {"field": "i", "type": "quantitative", "scale": {"domain": [-0.125, 299.625], "nice": false, "zero": false}},
  "y": {"field": "v", "type": "quantitative", "scale": {"domain": [14521, 15877.5], "nice": false, "zero": false}}}},
{"data": {"name": "kj"}, "mark": {"type": "line", "strokeWidth": 1, "color": "#0000ff", "clip": true},
 "encoding": {"x": {"field": "i", "type": "quantitative", "scale": {"domain": [-0.125, 299.625], "nice": false, "zero": false}},
  "y": {"field": "v", "type": "quantitative", "scale": {"domain": [14521, 15877.5], "nice": false, "zero": false}}}},
{"data": {"name": "lv"}, "mark": {"type": "tick", "orient": "horizontal", "size": 46, "thickness": 10},
 "encoding": {"x": {"datum": 306.1, "type": "quantitative", "scale": {"domain": [-0.125, 299.625], "nice": false, "zero": false}},
  "y": {"field": "v", "type": "quantitative", "scale": {"domain": [14521, 15877.5], "nice": false, "zero": false}},
  "color": {"condition": {"test": "datum.kind == 'bid'", "value": "#fffbe0"}, "value": "#ff0000"}}},
{"data": {"name": "lv"}, "mark": {"type": "text", "align": "left", "baseline": "middle", "font": "Liberation Sans", "fontSize": 9, "color": "#000000"},
 "encoding": {"x": {"datum": 301.5, "type": "quantitative", "scale": {"domain": [-0.125, 299.625], "nice": false, "zero": false}},
  "y": {"field": "v", "type": "quantitative", "scale": {"domain": [14521, 15877.5], "nice": false, "zero": false}},
  "text": {"field": "t"}}},
{"data": {"values": [{"m": "shift"}]}, "mark": {"type": "point", "shape": "triangle-down", "filled": true, "size": 45, "color": "#ffffff"},
 "encoding": {"x": {"datum": 239.3, "type": "quantitative", "scale": {"domain": [-0.125, 299.625], "nice": false, "zero": false}},
  "y": {"datum": 15870, "type": "quantitative", "scale": {"domain": [14521, 15877.5], "nice": false, "zero": false}}}}
]
}
